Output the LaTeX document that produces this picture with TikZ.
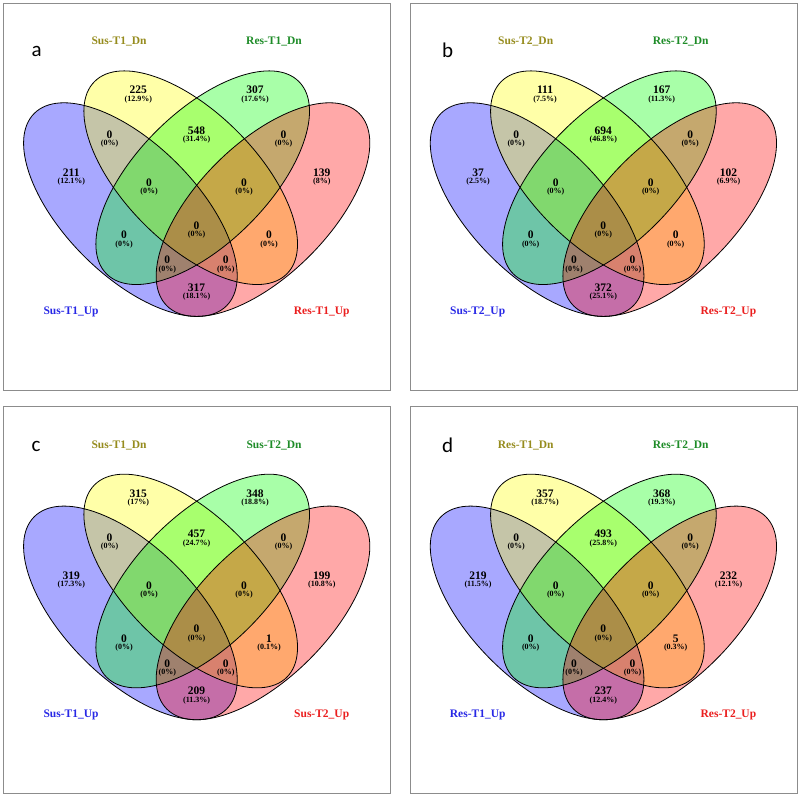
\documentclass[tikz,border=0pt]{standalone}
\usepackage{fontspec}
\setmainfont{Liberation Serif}
\newfontfamily\letterfont{Carlito}
\definecolor{vblue}{RGB}{0,0,255}
\definecolor{vyellow}{RGB}{255,255,0}
\definecolor{vgreen}{RGB}{0,255,0}
\definecolor{vred}{RGB}{255,0,0}
\definecolor{lolive}{RGB}{150,140,30}
\definecolor{lgreen}{RGB}{30,140,40}
\definecolor{lblue}{RGB}{40,40,230}
\definecolor{lred}{RGB}{235,30,30}
\newcommand\vcount[5]{%
  \node[numst] (#1n) at (#2,#3) {#4};
  \node[pctst] (#1p) at (#2,#3+9.3) {(#5\%)};
}
% ellipse centres (panel coordinates, y downwards)
\def\cbx{130.4}\def\cby{209.6}
\def\cyx{190.7}\def\cyy{177.7}
\def\cgx{202.7}\def\cgy{177.7}
\def\crx{263.0}\def\cry{209.6}
% #1 prefix, #2 letter x, #3 letter y, #4 letter, #5..#8 set labels
\newcommand\vpanel[8]{%
  \draw[framest] (3.3,3.3) rectangle (390.5,390);
  \fill[vblue, fillst, rotate around={135:(\cbx,\cby)}] (\cbx,\cby) ellipse [x radius=136pt, y radius=65.7pt];
  \fill[vyellow, fillst, rotate around={135:(\cyx,\cyy)}] (\cyx,\cyy) ellipse [x radius=136pt, y radius=65.7pt];
  \fill[vgreen, fillst, rotate around={45:(\cgx,\cgy)}] (\cgx,\cgy) ellipse [x radius=136pt, y radius=65.7pt];
  \fill[vred, fillst, rotate around={45:(\crx,\cry)}] (\crx,\cry) ellipse [x radius=136pt, y radius=65.7pt];
  \draw[edgest, rotate around={135:(\cbx,\cby)}] (\cbx,\cby) ellipse [x radius=136pt, y radius=65.7pt];
  \draw[edgest, rotate around={135:(\cyx,\cyy)}] (\cyx,\cyy) ellipse [x radius=136pt, y radius=65.7pt];
  \draw[edgest, rotate around={45:(\cgx,\cgy)}] (\cgx,\cgy) ellipse [x radius=136pt, y radius=65.7pt];
  \draw[edgest, rotate around={45:(\crx,\cry)}] (\crx,\cry) ellipse [x radius=136pt, y radius=65.7pt];
  \node[panlab] (#1letter) at (#2,#3) {#4};
  \node[setlab, text=lolive] (#1set2) at (119,41.7) {#5};
  \node[setlab, text=lgreen] (#1set3) at (274,41.7) {#6};
  \node[setlab, text=lblue] (#1set1) at (71,312) {#7};
  \node[setlab, text=lred] (#1set4) at (321.7,312) {#8};
}
\begin{document}
\begin{tikzpicture}[x=1pt,y=-1pt,
  framest/.style={draw=black!45, line width=1pt},
  fillst/.style={fill opacity=0.34},
  edgest/.style={draw=black, line width=0.8pt},
  numst/.style={font=\fontsize{11.5}{12}\selectfont\bfseries, inner sep=0pt},
  pctst/.style={font=\fontsize{8}{9}\selectfont\bfseries, inner sep=0pt},
  setlab/.style={font=\fontsize{11.5}{12}\selectfont\bfseries, inner sep=0pt},
  panlab/.style={font=\fontsize{21}{24}\selectfont\letterfont, inner sep=0pt}]
\path[use as bounding box, fill=white] (0,0) rectangle (800,796);

% ---------- panel a ----------
\begin{scope}
\vpanel{a}{36.7}{51.7}{a}{Sus-T1\_Dn}{Res-T1\_Dn}{Sus-T1\_Up}{Res-T1\_Up}
\vcount{a1}{138.3}{90}{225}{12.9}
\vcount{a2}{255}{90}{307}{17.6}
\vcount{a3}{109.5}{134.3}{0}{0}
\vcount{a4}{196.6}{130.7}{548}{31.4}
\vcount{a5}{283.5}{134.3}{0}{0}
\vcount{a6}{71.3}{172.3}{211}{12.1}
\vcount{a7}{149}{182.3}{0}{0}
\vcount{a8}{244}{182.3}{0}{0}
\vcount{a9}{321.8}{172.3}{139}{8}
\vcount{a10}{124}{235}{0}{0}
\vcount{a11}{196.6}{225.7}{0}{0}
\vcount{a12}{269}{235}{0}{0}
\vcount{a13}{167.3}{260}{0}{0}
\vcount{a14}{225.8}{260}{0}{0}
\vcount{a15}{196.6}{287.7}{317}{18.1}
\end{scope}

% ---------- panel b ----------
\begin{scope}[shift={(406.7,0)}]
\vpanel{b}{41}{50.3}{b}{Sus-T2\_Dn}{Res-T2\_Dn}{Sus-T2\_Up}{Res-T2\_Up}
\vcount{b1}{138.3}{90}{111}{7.5}
\vcount{b2}{255}{90}{167}{11.3}
\vcount{b3}{109.5}{134.3}{0}{0}
\vcount{b4}{196.6}{130.7}{694}{46.8}
\vcount{b5}{283.5}{134.3}{0}{0}
\vcount{b6}{71.3}{172.3}{37}{2.5}
\vcount{b7}{149}{182.3}{0}{0}
\vcount{b8}{244}{182.3}{0}{0}
\vcount{b9}{321.8}{172.3}{102}{6.9}
\vcount{b10}{124}{235}{0}{0}
\vcount{b11}{196.6}{225.7}{0}{0}
\vcount{b12}{269}{235}{0}{0}
\vcount{b13}{167.3}{260}{0}{0}
\vcount{b14}{225.8}{260}{0}{0}
\vcount{b15}{196.6}{287.7}{372}{25.1}
\end{scope}

% ---------- panel c ----------
\begin{scope}[shift={(0,403.3)}]
\vpanel{c}{36}{42.7}{c}{Sus-T1\_Dn}{Sus-T2\_Dn}{Sus-T1\_Up}{Sus-T2\_Up}
\vcount{c1}{138.3}{90}{315}{17}
\vcount{c2}{255}{90}{348}{18.8}
\vcount{c3}{109.5}{134.3}{0}{0}
\vcount{c4}{196.6}{130.7}{457}{24.7}
\vcount{c5}{283.5}{134.3}{0}{0}
\vcount{c6}{71.3}{172.3}{319}{17.3}
\vcount{c7}{149}{182.3}{0}{0}
\vcount{c8}{244}{182.3}{0}{0}
\vcount{c9}{321.8}{172.3}{199}{10.8}
\vcount{c10}{124}{235}{0}{0}
\vcount{c11}{196.6}{225.7}{0}{0}
\vcount{c12}{269}{235}{1}{0.1}
\vcount{c13}{167.3}{260}{0}{0}
\vcount{c14}{225.8}{260}{0}{0}
\vcount{c15}{196.6}{287.7}{209}{11.3}
\end{scope}

% ---------- panel d ----------
\begin{scope}[shift={(406.7,403.3)}]
\vpanel{d}{41}{41.7}{d}{Res-T1\_Dn}{Res-T2\_Dn}{Res-T1\_Up}{Res-T2\_Up}
\vcount{d1}{138.3}{90}{357}{18.7}
\vcount{d2}{255}{90}{368}{19.3}
\vcount{d3}{109.5}{134.3}{0}{0}
\vcount{d4}{196.6}{130.7}{493}{25.8}
\vcount{d5}{283.5}{134.3}{0}{0}
\vcount{d6}{71.3}{172.3}{219}{11.5}
\vcount{d7}{149}{182.3}{0}{0}
\vcount{d8}{244}{182.3}{0}{0}
\vcount{d9}{321.8}{172.3}{232}{12.1}
\vcount{d10}{124}{235}{0}{0}
\vcount{d11}{196.6}{225.7}{0}{0}
\vcount{d12}{269}{235}{5}{0.3}
\vcount{d13}{167.3}{260}{0}{0}
\vcount{d14}{225.8}{260}{0}{0}
\vcount{d15}{196.6}{287.7}{237}{12.4}
\end{scope}
\end{tikzpicture}
\end{document}
